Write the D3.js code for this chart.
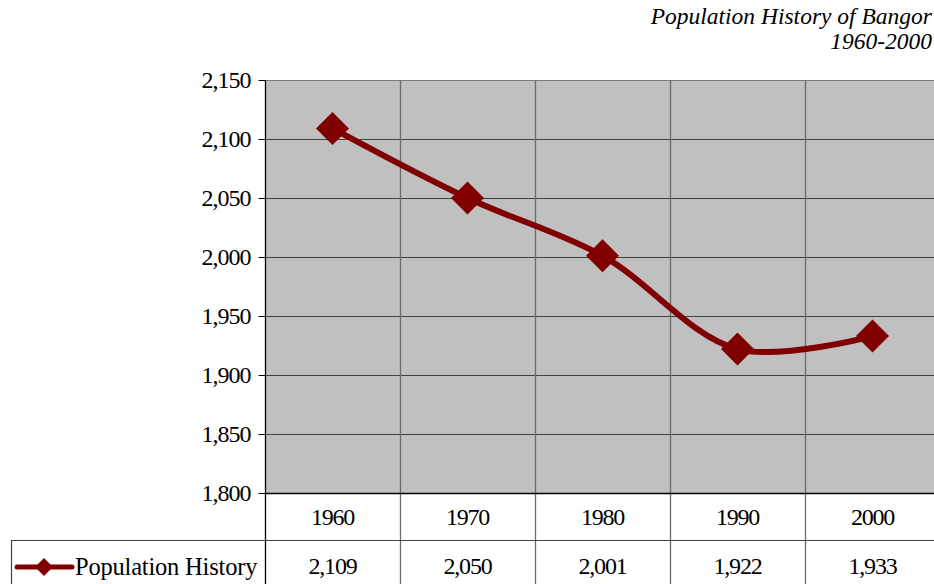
<!doctype html>
<html>
<head>
<meta charset="utf-8">
<script src="https://cdn.jsdelivr.net/npm/d3@7/dist/d3.min.js"></script>
<style>
  body { margin: 0; background: #fff; }
</style>
</head>
<body>
<svg id="chart"></svg>
<script>
const years = ["1960", "1970", "1980", "1990", "2000"];
const population = [2109, 2050, 2001, 1922, 1933];
const yTicks = [1800, 1850, 1900, 1950, 2000, 2050, 2100, 2150];
const seriesName = "Population History";
const titleLines = ["Population History of Bangor", "1960-2000"];

const width = 934, height = 584;
const plot = { left: 265, right: 940, top: 80, bottom: 493 };
const rowBottom = 540;
const lineColor = "#800000";
const serif = '"Liberation Serif", "Times New Roman", serif';

const svg = d3.select("#chart").attr("width", width).attr("height", height);
const fmt = d3.format(",");

const x = d3.scaleBand().domain(years).range([plot.left, plot.right]);
const y = d3.scaleLinear().domain([1800, 2150]).range([plot.bottom, plot.top]);

// plot background
svg.append("rect")
    .attr("x", plot.left).attr("y", plot.top)
    .attr("width", plot.right - plot.left).attr("height", plot.bottom - plot.top)
    .attr("fill", "#c0c0c0");

// horizontal gridlines
svg.append("g").selectAll("line")
    .data(yTicks.slice(1))
    .join("line")
    .attr("x1", plot.left).attr("x2", plot.right)
    .attr("y1", d => Math.round(y(d)) + 0.5).attr("y2", d => Math.round(y(d)) + 0.5)
    .attr("stroke", d => d === 2150 ? "#7a7a7a" : "#404040")
    .attr("stroke-width", 1.2);

// vertical category separators (plot + table)
svg.append("g").selectAll("line")
    .data(years.slice(1))
    .join("line")
    .attr("x1", d => Math.round(x(d)) + 0.5).attr("x2", d => Math.round(x(d)) + 0.5)
    .attr("y1", plot.top).attr("y2", height)
    .attr("stroke", "#6a6a6a")
    .attr("stroke-width", 1.3);

// y axis
const yAxis = svg.append("g")
    .attr("transform", `translate(${plot.left + 0.5},0)`)
    .call(d3.axisLeft(y).tickValues(yTicks).tickFormat(fmt).tickSize(7).tickPadding(8));
yAxis.select(".domain").remove();
yAxis.selectAll(".tick line").attr("stroke", "#000");
yAxis.selectAll(".tick text")
    .style("font-family", serif)
    .style("font-size", "24px")
    .style("letter-spacing", "-1px")
    .attr("fill", "#000");

svg.append("line")
    .attr("x1", plot.left + 0.5).attr("x2", plot.left + 0.5)
    .attr("y1", plot.top).attr("y2", height)
    .attr("stroke", "#000").attr("stroke-width", 1.3);

// x axis line and table lines
svg.append("line")
    .attr("x1", plot.left).attr("x2", plot.right)
    .attr("y1", plot.bottom + 0.5).attr("y2", plot.bottom + 0.5)
    .attr("stroke", "#000").attr("stroke-width", 1.5);
svg.append("line")
    .attr("x1", 11).attr("x2", plot.right)
    .attr("y1", rowBottom + 0.5).attr("y2", rowBottom + 0.5)
    .attr("stroke", "#404040").attr("stroke-width", 1.2);
svg.append("line")
    .attr("x1", 11.5).attr("x2", 11.5)
    .attr("y1", rowBottom).attr("y2", height)
    .attr("stroke", "#404040").attr("stroke-width", 1.2);

// category labels row
svg.append("g").selectAll("text")
    .data(years)
    .join("text")
    .attr("x", d => x(d) + x.bandwidth() / 2)
    .attr("y", 525)
    .attr("text-anchor", "middle")
    .style("font-family", serif)
    .style("font-size", "24px")
    .style("letter-spacing", "-1.2px")
    .text(d => d);

// values row
svg.append("g").selectAll("text")
    .data(population)
    .join("text")
    .attr("x", (d, i) => x(years[i]) + x.bandwidth() / 2)
    .attr("y", 574)
    .attr("text-anchor", "middle")
    .style("font-family", serif)
    .style("font-size", "24px")
    .style("letter-spacing", "-1.2px")
    .text(d => fmt(d));

// smoothed line
const line = d3.line()
    .x((d, i) => x(years[i]) + x.bandwidth() / 2)
    .y(d => y(d))
    .curve(d3.curveCatmullRom.alpha(0.5));

svg.append("path")
    .datum(population)
    .attr("d", line)
    .attr("fill", "none")
    .attr("stroke", lineColor)
    .attr("stroke-width", 6)
    .attr("stroke-linejoin", "round");

const diamond = r => `M0,${-r}L${r},0L0,${r}L${-r},0Z`;

svg.append("g").selectAll("path")
    .data(population)
    .join("path")
    .attr("transform", (d, i) => `translate(${x(years[i]) + x.bandwidth() / 2},${y(d)})`)
    .attr("d", diamond(16.5))
    .attr("fill", lineColor);

// legend key
const key = svg.append("g").attr("transform", "translate(0,567)");
key.append("line")
    .attr("x1", 17).attr("x2", 72)
    .attr("stroke", lineColor).attr("stroke-width", 5).attr("stroke-linecap", "round");
key.append("path")
    .attr("transform", "translate(44,0)")
    .attr("d", diamond(9))
    .attr("fill", lineColor);
key.append("text")
    .attr("x", 75).attr("y", 8)
    .style("font-family", serif)
    .style("font-size", "24.5px")
    .style("letter-spacing", "-0.2px")
    .text(seriesName);

// title
svg.append("g").selectAll("text")
    .data(titleLines)
    .join("text")
    .attr("x", 932)
    .attr("y", (d, i) => 24 + i * 25)
    .attr("text-anchor", "end")
    .style("font-family", serif)
    .style("font-size", "23.5px")
    .style("font-style", "italic")
    .text(d => d);
</script>
</body>
</html>
